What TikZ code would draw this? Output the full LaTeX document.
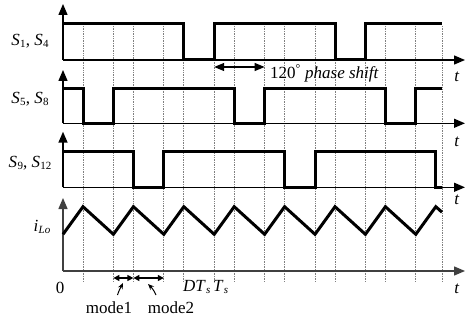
\documentclass[tikz,border=0pt]{standalone}
\usepackage{fontspec}
\setmainfont{Liberation Serif}
\usetikzlibrary{arrows.meta}
\newcommand{\sigl}[2]{\textit{#1}\kern0.3pt\raisebox{-0.35ex}{\fontsize{11}{11}\selectfont #2}}
\begin{document}
\begin{tikzpicture}[x=1pt,y=-1pt,
  axisline/.style={line width=1.4pt,-{Triangle[length=11pt,width=9pt]}},
  gaxisline/.style={axisline,draw=black!75},
  wave/.style={line width=3pt,line join=miter},
  gridline/.style={gray,densely dotted,line width=0.7pt},
  lbl/.style={font=\fontsize{17}{20}\selectfont,inner sep=0pt},
  dim/.style={line width=1.2pt,{Triangle[length=10pt,width=8pt]}-{Triangle[length=10pt,width=8pt]}},
  smalldim/.style={line width=1.2pt,{Triangle[length=6pt,width=6pt]}-{Triangle[length=6pt,width=6pt]}},
  curlarrow/.style={line width=1pt,-{Stealth[length=6pt,width=5pt]}}]
\useasboundingbox (0,0) rectangle (465,323);
% grid lines
\foreach \x in {83,113.4,133.4,163.8,183.8,214.2,234.2,264.6,284.6,315,335,365.4,385.4,415.8,442}
  \draw[gridline] (\x,26) -- (\x,282);
% origins
\coordinate (o1) at (63,60);
\coordinate (o2) at (63,123.3);
\coordinate (o3) at (63,187.3);
\coordinate (o4) at (63,271);
\coordinate (y1) at (63,4);
\coordinate (y2) at (63,70);
\coordinate (y3) at (63,131.7);
\coordinate (y4) at (63,198);
\coordinate (x1) at (465,60);
\coordinate (x2) at (465,123.3);
\coordinate (x3) at (465,187.3);
\coordinate (x4) at (465,271);
% axes
\draw[axisline] (o1) -- (y1);
\draw[axisline] (o1) -- (x1);
\draw[axisline] (o2) -- (y2);
\draw[axisline] (o2) -- (x2);
\draw[axisline] (o3) -- (y3);
\draw[axisline] (o3) -- (x3);
\draw[gaxisline] (o4) -- (y4);
\draw[gaxisline] (o4) -- (x4);
% waveforms
\draw[wave] (63,24) -- (183.8,24) -- (183.8,60) -- (214.2,60) -- (214.2,24) -- (335,24) -- (335,60) -- (365.4,60) -- (365.4,24) -- (442,24);
\draw[wave] (63,88.3) -- (83,88.3) -- (83,123.3) -- (113.4,123.3) -- (113.4,88.3) -- (234.2,88.3) -- (234.2,123.3) -- (264.6,123.3) -- (264.6,88.3) -- (385.4,88.3) -- (385.4,123.3) -- (415.8,123.3) -- (415.8,88.3) -- (442,88.3);
\draw[wave] (63,151.7) -- (133.4,151.7) -- (133.4,187.3) -- (163.8,187.3) -- (163.8,151.7) -- (284.6,151.7) -- (284.6,187.3) -- (315,187.3) -- (315,151.7) -- (435.8,151.7) -- (435.8,187.3) -- (442,187.3);
\draw[wave] (63,234.3) -- (83,206.7) -- (113.4,234.3) -- (133.4,206.7) -- (163.8,234.3) -- (183.8,206.7) -- (214.2,234.3) -- (234.2,206.7) -- (264.6,234.3) -- (284.6,206.7) -- (315,234.3) -- (335,206.7) -- (365.4,234.3) -- (385.4,206.7) -- (415.8,234.3) -- (435.8,206.7) -- (442,212.2);
% labels
\node[lbl] (l1) at (30,41) {\sigl{S}{1}, \sigl{S}{4}};
\node[lbl] (l2) at (30,99) {\sigl{S}{5}, \sigl{S}{8}};
\node[lbl] (l3) at (30,163) {\sigl{S}{9}, \sigl{S}{12}};
\node[lbl] (l4) at (42,227) {\sigl{i}{\itshape Lo}};
\node[lbl] (t1) at (457,77) {\textit{t}};
\node[lbl] (t2) at (457,142) {\textit{t}};
\node[lbl] (t3) at (457,200) {\textit{t}};
\node[lbl] (t4) at (457,289) {\textit{t}};
% phase shift
\coordinate (p1) at (214.2,67);
\coordinate (p2) at (264.6,67);
\draw[dim] (p1) -- (p2);
\node[lbl,anchor=west] (ps) at (270,73) {120\textsuperscript{°} \textit{phase shift}};
% bottom labels
\node[lbl] (zero) at (60,288) {0};
\node[lbl,anchor=west] (dts) at (183,287) {\sigl{DT}{\itshape s}};
\node[lbl,anchor=west] (ts) at (213,287) {\sigl{T}{\itshape s}};
\coordinate (m0) at (113.4,278);
\coordinate (m1) at (133.4,278);
\coordinate (m2) at (163.8,278);
\draw[smalldim] (m0) -- (m1);
\draw[smalldim] (m1) -- (m2);
\node[lbl] (mode1) at (109,308) {mode1};
\node[lbl] (mode2) at (171,308) {mode2};
\draw[curlarrow] (117.5,295) .. controls (119,290) and (121,287) .. (123,283);
\draw[curlarrow] (156,295) .. controls (154,290) and (151,287) .. (148,284);
\end{tikzpicture}
\end{document}
